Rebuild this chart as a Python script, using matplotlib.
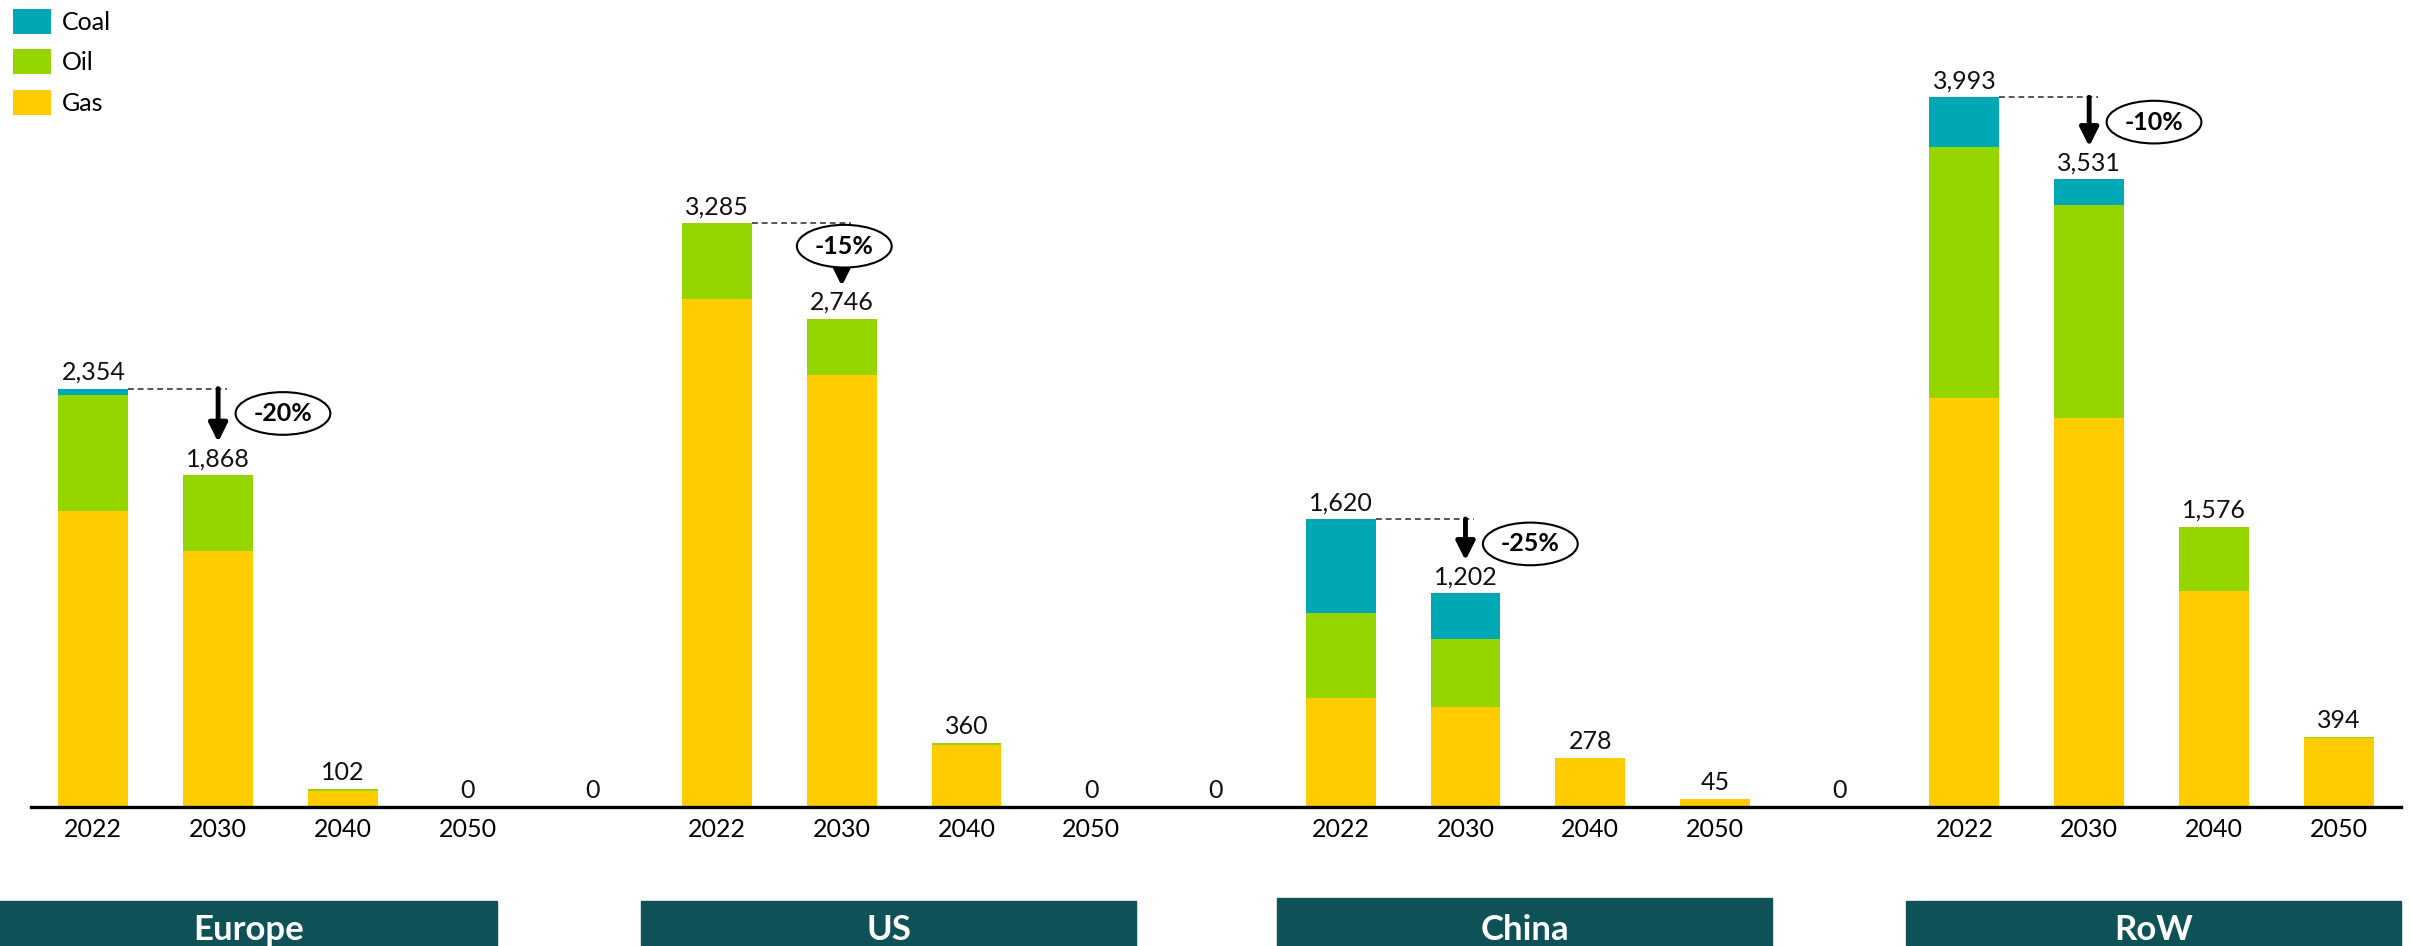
import numpy as np
import matplotlib.pyplot as plt
from matplotlib.patches import Ellipse, Rectangle

plt.rcParams['font.family'] = ['Lato', 'DejaVu Sans']

regions = ['Europe', 'US', 'China', 'RoW']
years = ['2022', '2030', '2040', '2050']

# values per region, one entry per year
gas = [[1667, 1440, 92, 0],
       [2857, 2431, 350, 0],
       [611, 560, 278, 45],
       [2301, 2187, 1216, 386]]
oil = [[653, 428, 10, 0],
       [428, 315, 10, 0],
       [482, 383, 0, 0],
       [1411, 1198, 360, 8]]
coal = [[34, 0, 0, 0],
        [0, 0, 0, 0],
        [527, 259, 0, 0],
        [281, 146, 0, 0]]

# change 2022 -> 2030 shown in the bubbles
changes = ['-20%', '-15%', '-25%', '-10%']

c_coal = '#00A7B5'
c_oil = '#96D600'
c_gas = '#FFCC00'
c_band = '#0E5257'

# lay the regions out with one empty (zero) slot between them
x, g, o, c, ticks = [], [], [], [], []
for i in range(len(regions)):
    for j in range(len(years)):
        x.append(i * 5 + j)
        g.append(gas[i][j])
        o.append(oil[i][j])
        c.append(coal[i][j])
        ticks.append(years[j])
    if i < len(regions) - 1:
        x.append(i * 5 + 4)
        g.append(0)
        o.append(0)
        c.append(0)
        ticks.append('')
x = np.array(x)
g = np.array(g)
o = np.array(o)
c = np.array(c)
tot = g + o + c

W, H = 2410, 946
fig = plt.figure(figsize=(W / 100, H / 100), dpi=100)
ax = fig.add_axes([31 / W, 139 / H, 2370 / W, 807 / H])

bw = 0.56
b_gas = ax.bar(x, g, bw, color=c_gas, label='Gas')
b_oil = ax.bar(x, o, bw, bottom=g, color=c_oil, label='Oil')
b_coal = ax.bar(x, c, bw, bottom=g + o, color=c_coal, label='Coal')

for xi, t in zip(x, tot):
    ax.annotate(f'{t:,.0f}', (xi, t), xytext=(0, 3.5), textcoords='offset points',
                ha='center', va='bottom', fontsize=18, color='#111111')

ax.set_xlim(-0.5, 18.5)
ax.set_ylim(0, 4540)
ax.set_xticks(x)
ax.set_xticklabels(ticks, fontsize=18)
ax.tick_params(axis='x', length=0, pad=8)
ax.set_yticks([])
for s in ['top', 'right', 'left']:
    ax.spines[s].set_visible(False)
ax.spines['bottom'].set_linewidth(2.4)

# 2022 -> 2030 reduction markers
for i in range(len(regions)):
    v0 = tot[x == i * 5][0]
    v1 = tot[x == i * 5 + 1][0]
    xa = i * 5 + 1
    ax.plot([i * 5 + bw / 2, xa + 0.07], [v0, v0], ls=(0, (3, 2)), color='#555555', lw=1.4)
    if regions[i] == 'US':
        ex, ey = xa + 0.02, v0 - 130
        y_start = ey - 118
    else:
        ex, ey = xa + 0.52, v0 - 140
        y_start = v0
    ax.annotate('', xy=(xa, v1 + 185), xytext=(xa, y_start),
                arrowprops=dict(arrowstyle='-|>', color='black', lw=3.5,
                                mutation_scale=28, shrinkA=0, shrinkB=0))
    ax.add_patch(Ellipse((ex, ey), 0.76, 240, facecolor='white', edgecolor='black', lw=1.5, zorder=5))
    ax.text(ex, ey, changes[i], ha='center', va='center', fontsize=18,
            fontweight='bold', zorder=6)

# region bands along the bottom
bands = [(0, 497, 901), (641, 1136, 901), (1277, 1772, 898), (1906, 2401, 901)]
for name, (x0, x1, y0) in zip(regions, bands):
    fig.add_artist(Rectangle((x0 / W, 0), (x1 - x0) / W, (H - y0) / H,
                             transform=fig.transFigure, color=c_band))
    fig.text((x0 + x1) / 2 / W, (H - 940) / H, name, ha='center', va='baseline',
             color='white', fontsize=25, fontweight='bold')

fig.legend([b_coal, b_oil, b_gas], ['Coal', 'Oil', 'Gas'], loc='upper left',
           bbox_to_anchor=(13 / W, 1 - 9 / H), frameon=False, fontsize=18,
           handlelength=1.5, handleheight=1.15, labelspacing=0.62,
           handletextpad=0.45, borderpad=0, borderaxespad=0)

fig.savefig('out.png', dpi=100)
